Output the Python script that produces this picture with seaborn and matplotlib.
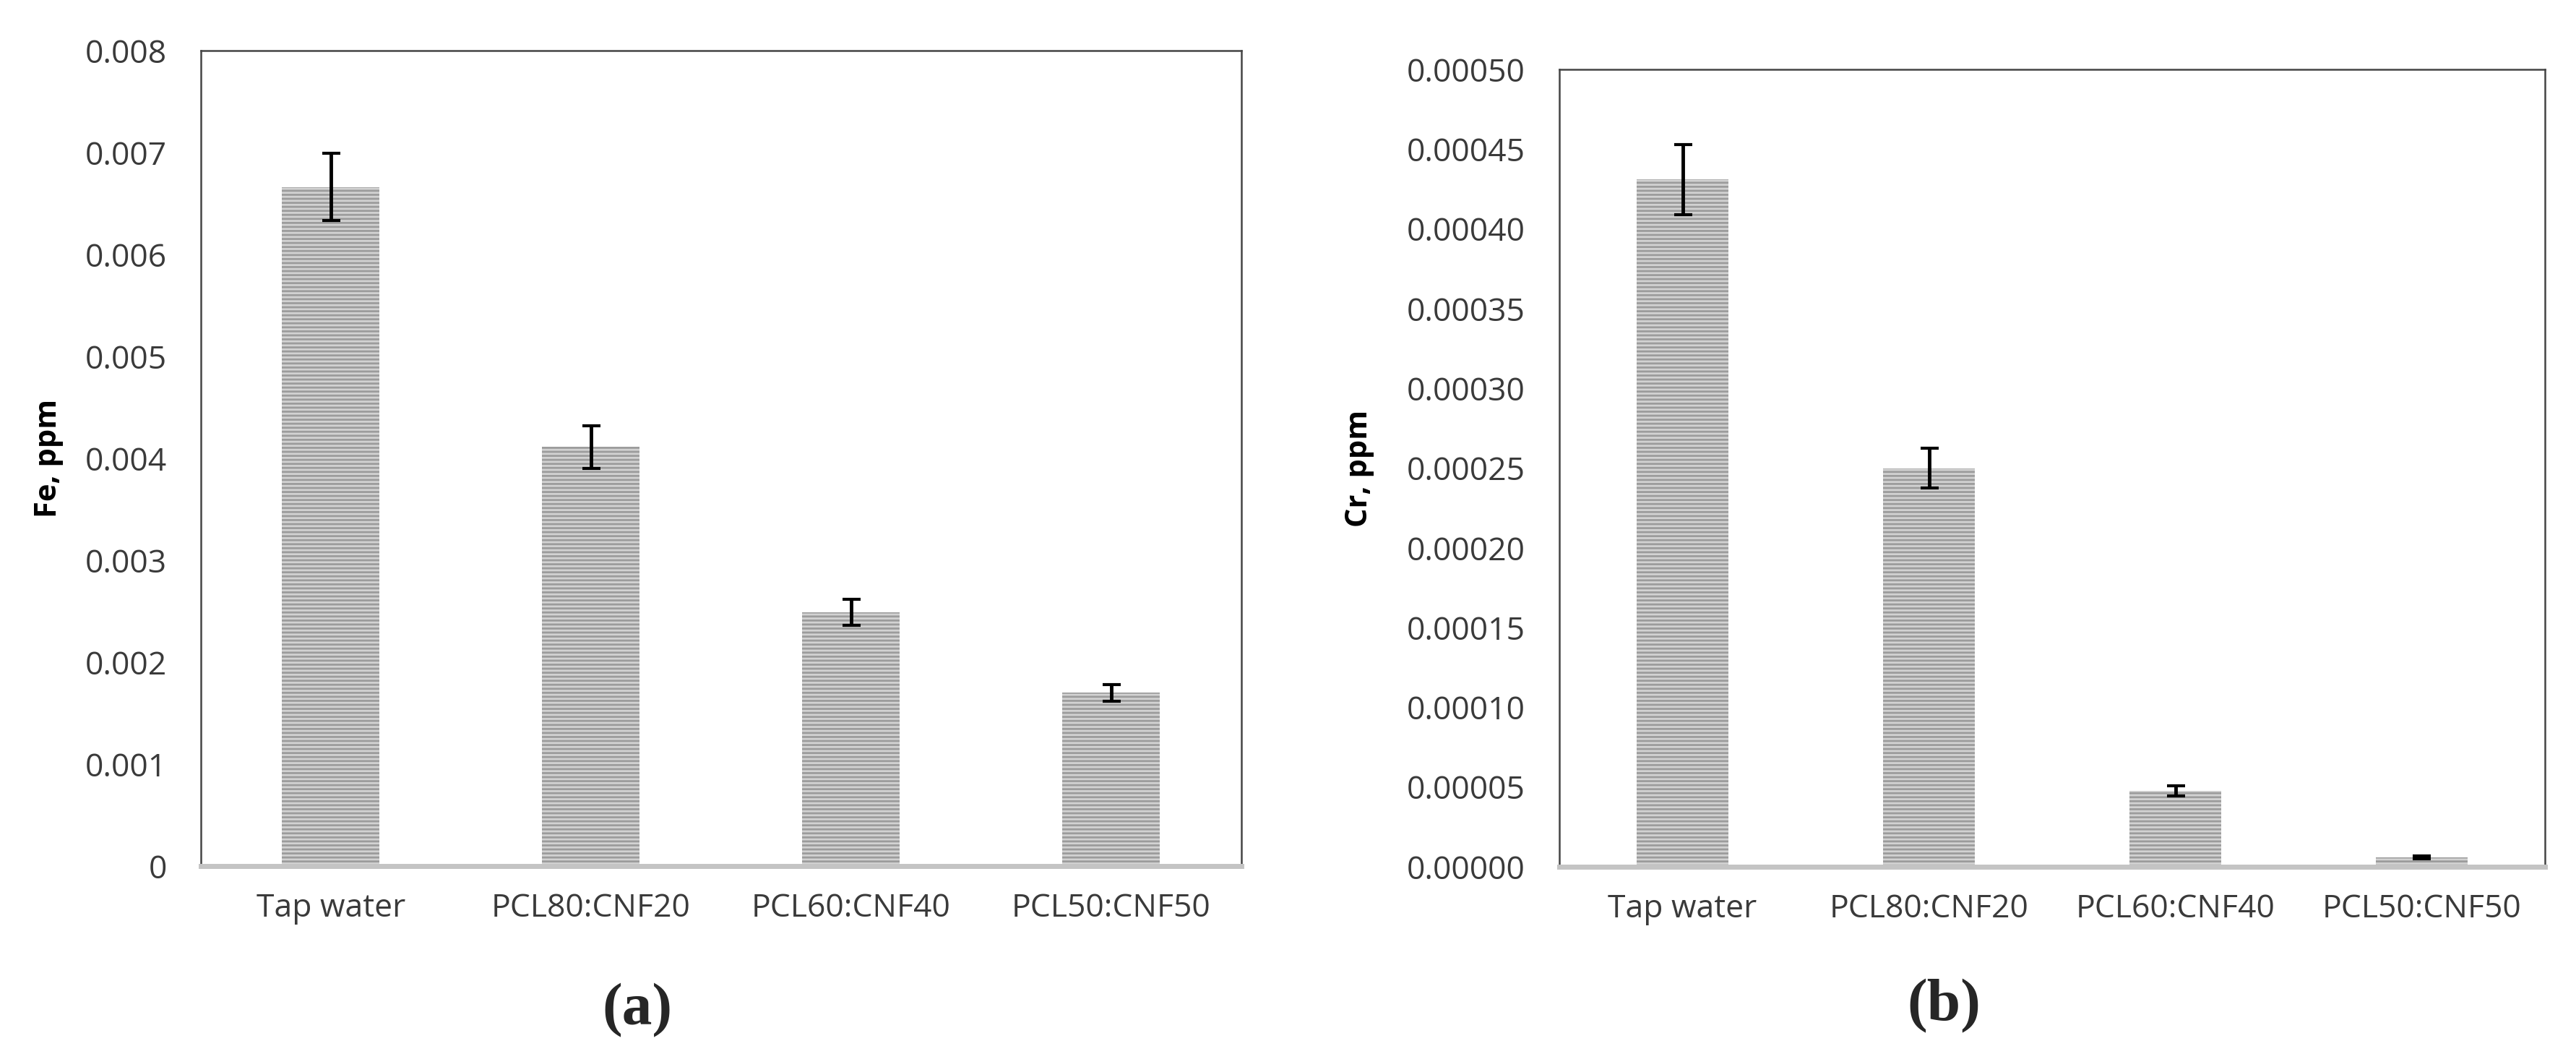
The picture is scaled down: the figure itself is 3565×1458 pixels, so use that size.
import numpy as np
import matplotlib
matplotlib.use('Agg')
import matplotlib.pyplot as plt
import seaborn as sns

samples = ['Tap water', 'PCL80:CNF20', 'PCL60:CNF40', 'PCL50:CNF50']
fe_mean = [0.00666, 0.00411, 0.00249, 0.00170]
fe_err = [0.00033, 0.00021, 0.00013, 0.00008]
cr_mean = [0.000431, 0.000250, 0.0000476, 0.0000058]
cr_err = [0.000022, 0.0000124, 0.0000030, 0.0000010]

fe_ticks = [0, 0.001, 0.002, 0.003, 0.004, 0.005, 0.006, 0.007, 0.008]
fe_ticklabels = ['0', '0.001', '0.002', '0.003', '0.004', '0.005', '0.006', '0.007', '0.008']
cr_ticks = np.arange(0, 0.00050001, 0.00005)
cr_ticklabels = ['%.5f' % t for t in cr_ticks]

sns.set_style('white')
plt.rcParams['font.family'] = ['Open Sans', 'DejaVu Sans']
plt.rcParams['hatch.linewidth'] = 2.0

text_col = '#3a3a3a'

fig = plt.figure(figsize=(35.66, 14.58), dpi=100)
ax1 = fig.add_axes([278 / 3566, 1 - 1198 / 1458, 1440 / 3566, 1128 / 1458])
ax2 = fig.add_axes([2158 / 3566, 1 - 1199 / 1458, 1364 / 3566, 1103 / 1458])


def draw(ax, means, errs, ticks, ticklabels, ylabel, label_x):
    sns.barplot(x=samples, y=means, ax=ax, color='#d2d2d2', saturation=1,
                width=0.375, edgecolor='#9c9c9c', linewidth=0, hatch='---')
    ax.errorbar(x=np.arange(len(samples)), y=means, yerr=errs, fmt='none',
                ecolor='black', elinewidth=3.5, capsize=9, capthick=3)
    ax.set_xlim(-0.5, len(samples) - 0.5)
    ax.set_ylim(ticks[0], ticks[-1])
    ax.set_yticks(ticks)
    ax.set_yticklabels(ticklabels)
    ax.tick_params(axis='both', length=0, labelsize=32, colors=text_col)
    ax.tick_params(axis='y', pad=34)
    ax.tick_params(axis='x', pad=26)
    ax.set_ylabel(ylabel, fontsize=30, fontweight='bold', color='black')
    ax.yaxis.set_label_coords(label_x, 0.5)
    for side in ['left', 'top', 'right']:
        ax.spines[side].set_visible(True)
        ax.spines[side].set_color('#444444')
        ax.spines[side].set_linewidth(1.8)
    ax.spines['bottom'].set_color('#c4c4c4')
    ax.spines['bottom'].set_linewidth(5)


draw(ax1, fe_mean, fe_err, fe_ticks, fe_ticklabels, 'Fe, ppm', -0.132)
draw(ax2, cr_mean, cr_err, cr_ticks, cr_ticklabels, 'Cr, ppm', -0.188)

fig.text(882 / 3566, 1 - 1398 / 1458, '(a)', ha='center', va='center',
         fontsize=60, fontweight='bold', family='Liberation Serif')
fig.text(2690 / 3566, 1 - 1392 / 1458, '(b)', ha='center', va='center',
         fontsize=60, fontweight='bold', family='Liberation Serif')

fig.savefig('out.png', dpi=100, facecolor='white')
